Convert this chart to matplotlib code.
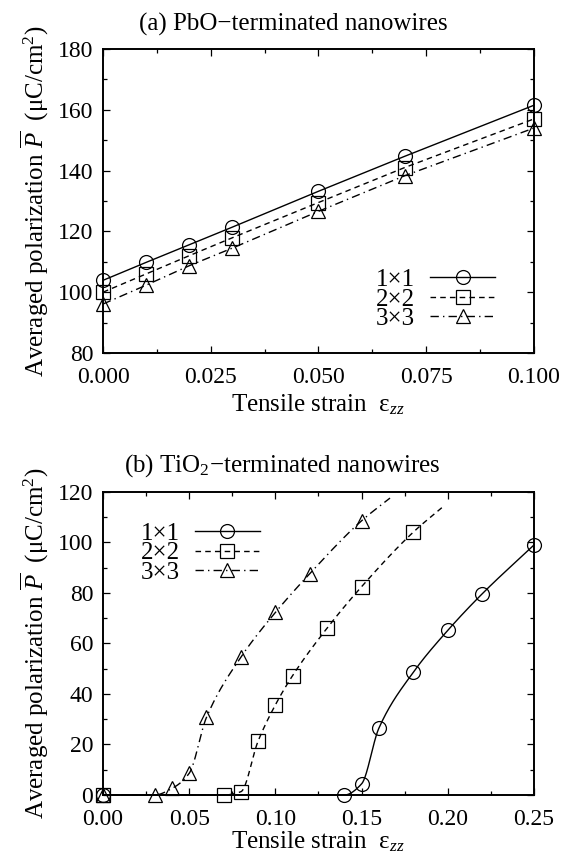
import numpy as np
import matplotlib
matplotlib.use("Agg")
import matplotlib.pyplot as plt
from matplotlib.ticker import MultipleLocator, FormatStrFormatter

# ---------------- data ----------------
labels = ["1\u00d71", "2\u00d72", "3\u00d73"]

# (a) PbO-terminated
xa = [0.0, 0.01, 0.02, 0.03, 0.05, 0.07, 0.10]
ya_11 = [103.9, 109.8, 115.6, 121.4, 133.2, 144.7, 161.5]
ya_22 = [100.0, 106.0, 112.0, 117.9, 129.5, 141.0, 157.0]
ya_33 = [96.1, 102.3, 108.7, 114.5, 126.6, 138.3, 154.0]

# (b) TiO2-terminated
xb_11 = [0.0, 0.14, 0.15, 0.16, 0.18, 0.20, 0.22, 0.25]
yb_11 = [0.0, 0.0, 4.4, 26.4, 48.6, 65.2, 79.7, 99.0]
xb_22 = [0.0, 0.07, 0.08, 0.09, 0.10, 0.11, 0.13, 0.15, 0.18]
yb_22 = [0.0, 0.0, 1.3, 21.4, 35.7, 47.3, 66.1, 82.5, 104.1]
xb_33 = [0.0, 0.03, 0.04, 0.05, 0.06, 0.08, 0.10, 0.12, 0.15]
yb_33 = [0.0, 0.0, 2.6, 8.6, 30.7, 54.6, 72.3, 87.7, 108.6]
# curve continuation beyond last marker (no marker drawn)
xb_22_end, yb_22_end = 0.198, 114.6
xb_33_end, yb_33_end = 0.1665, 117.6

title_a = "(a) PbO\u2212terminated nanowires"
title_b = "(b) TiO$_2$\u2212terminated nanowires"

# ---------------- style ----------------
plt.rcParams['font.family'] = ['Liberation Serif', 'DejaVu Serif']
plt.rcParams['mathtext.fontset'] = 'custom'
plt.rcParams['mathtext.rm'] = 'Liberation Serif'
plt.rcParams['mathtext.it'] = 'Liberation Serif:italic'

markers = ['o', 's', '^']
styles = ['-', (0, (4, 3)), (0, (6, 3, 1, 3))]


def pchip(x, y, n=40):
    x = np.asarray(x, float)
    y = np.asarray(y, float)
    h = np.diff(x)
    d = np.diff(y) / h
    m = np.zeros_like(y)
    for k in range(1, len(x) - 1):
        if d[k - 1] * d[k] > 0:
            w1 = 2 * h[k] + h[k - 1]
            w2 = h[k] + 2 * h[k - 1]
            m[k] = (w1 + w2) / (w1 / d[k - 1] + w2 / d[k])
        else:
            m[k] = 0.0
    m[0] = d[0]
    m[-1] = d[-1]
    xs, ys = [], []
    for k in range(len(x) - 1):
        t = np.linspace(0, 1, n)
        hk = h[k]
        h00 = 2 * t**3 - 3 * t**2 + 1
        h10 = t**3 - 2 * t**2 + t
        h01 = -2 * t**3 + 3 * t**2
        h11 = t**3 - t**2
        xs.append(x[k] + t * hk)
        ys.append(h00 * y[k] + h10 * hk * m[k] + h01 * y[k + 1] + h11 * hk * m[k + 1])
    return np.concatenate(xs), np.concatenate(ys)


fig = plt.figure(figsize=(5.67, 8.63), dpi=100)
axa = fig.add_axes([0.1817, 0.5910, 0.7600, 0.3522])
axb = fig.add_axes([0.1817, 0.0788, 0.7600, 0.3511])

ylab = "Averaged polarization $\\overline{P}$  (\u03bcC/cm$^2$)"
xlab = "Tensile strain  \u03b5$_{zz}$"

FS = 18
mk = dict(markersize=10, markerfacecolor='none', markeredgecolor='black', markeredgewidth=0.9)
legkw = dict(frameon=False, markerfirst=False, fontsize=FS, handlelength=2.6,
             handletextpad=0.6, labelspacing=-0.12, borderaxespad=0, borderpad=0)

# panel a
for ys, m, ls, lab in zip([ya_11, ya_22, ya_33], markers, styles, labels):
    axa.plot(xa, ys, color='black', lw=1.0, linestyle=ls, marker=m, label=lab,
             clip_on=False, **mk)
axa.set_xlim(0, 0.1)
axa.set_ylim(80, 180)
axa.xaxis.set_major_locator(MultipleLocator(0.025))
axa.xaxis.set_minor_locator(MultipleLocator(0.0125))
axa.yaxis.set_major_locator(MultipleLocator(20))
axa.yaxis.set_minor_locator(MultipleLocator(10))
axa.xaxis.set_major_formatter(FormatStrFormatter('%.3f'))
axa.legend(loc='lower right', bbox_to_anchor=(0.91, 0.075), **legkw)

# panel b
for xs, ys, m, ls, lab, end in zip([xb_11, xb_22, xb_33], [yb_11, yb_22, yb_33],
                                   markers, styles, labels,
                                   [None, (xb_22_end, yb_22_end), (xb_33_end, yb_33_end)]):
    lx, ly = list(xs), list(ys)
    if end is not None:
        lx.append(end[0])
        ly.append(end[1])
    cx, cy = pchip(lx, ly)
    axb.plot(cx, cy, color='black', lw=1.0, linestyle=ls, clip_on=False)
    axb.plot(xs, ys, linestyle='none', marker=m, clip_on=False, **mk)
    axb.plot([], [], color='black', lw=1.0, linestyle=ls, marker=m, label=lab, **mk)
axb.set_xlim(0, 0.25)
axb.set_ylim(0, 120)
axb.xaxis.set_major_locator(MultipleLocator(0.05))
axb.xaxis.set_minor_locator(MultipleLocator(0.025))
axb.yaxis.set_major_locator(MultipleLocator(20))
axb.yaxis.set_minor_locator(MultipleLocator(10))
axb.xaxis.set_major_formatter(FormatStrFormatter('%.2f'))
axb.legend(loc='upper left', bbox_to_anchor=(0.087, 0.90), **legkw)

# titles centred on the canvas (as in the reference)
fig.text(0.518, 1 - 31 / 863, title_a, fontsize=FS, ha='center', va='baseline')
fig.text(0.497, 1 - 472 / 863, title_b, fontsize=FS, ha='center', va='baseline')

for ax in (axa, axb):
    ax.tick_params(which='both', direction='in', top=True, right=True,
                   labelsize=17, width=0.9)
    ax.tick_params(axis='x', pad=10)
    ax.tick_params(axis='y', pad=7)
    ax.tick_params(which='major', length=5)
    ax.tick_params(which='minor', length=3)
    for s in ax.spines.values():
        s.set_linewidth(1.4)
    ax.set_ylabel(ylab, fontsize=FS, labelpad=5)
axa.set_xlabel(xlab, fontsize=FS, labelpad=3)
axb.set_xlabel(xlab, fontsize=FS, labelpad=0)

fig.savefig("out.png", dpi=100)
